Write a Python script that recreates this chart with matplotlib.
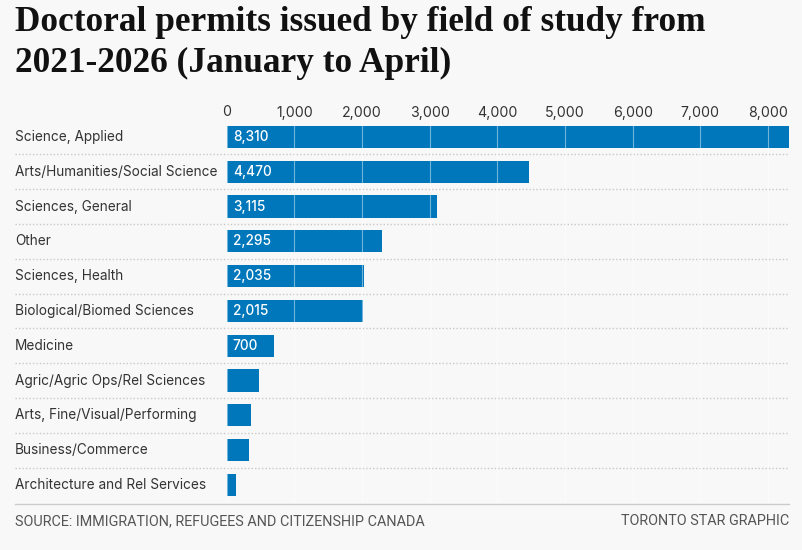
import numpy as np
import matplotlib
matplotlib.use("Agg")
import matplotlib.pyplot as plt

# data
fields = ["Science, Applied", "Arts/Humanities/Social Science", "Sciences, General",
          "Other", "Sciences, Health", "Biological/Biomed Sciences", "Medicine",
          "Agric/Agric Ops/Rel Sciences", "Arts, Fine/Visual/Performing",
          "Business/Commerce", "Architecture and Rel Services"]
permits = [8310, 4470, 3115, 2295, 2035, 2015, 700, 480, 360, 330, 140]
ticks = [0, 1000, 2000, 3000, 4000, 5000, 6000, 7000, 8000]

W, H = 802, 550
bg = "#f8f8f8"
blue = "#0077bb"

fig = plt.figure(figsize=(W / 100, H / 100), dpi=100, facecolor=bg)

# axes box in pixels
x0, x1 = 226.7, 789
ytop, ybot = 119.5, 502.3
ax = fig.add_axes([x0 / W, 1 - ybot / H, (x1 - x0) / W, (ybot - ytop) / H])
ax.set_facecolor(bg)

n = len(fields)
y = np.arange(n)
ax.barh(y, permits, height=0.64, color=blue, zorder=2)
ax.set_ylim(n - 0.5, -0.5)
ax.set_xlim(0, 8310)

# light grid lines on top of the bars
for t in ticks:
    ax.axvline(t, color="white", lw=0.8, alpha=0.45, zorder=3)

ax.xaxis.tick_top()
ax.set_xticks(ticks)
ax.set_xticklabels([f"{t:,}" for t in ticks], family="Inter", fontsize=10.2, color="#333333")
ax.tick_params(axis="x", length=0, pad=0)
ax.set_yticks([])
for s in ax.spines.values():
    s.set_visible(False)

# labels on left
lx = (15 - x0) / (x1 - x0)
for i, f in enumerate(fields):
    ax.text(lx, i, f, transform=ax.get_yaxis_transform(), ha="left", va="center",
            family="Inter", fontsize=9.8, color="#333333")

# values inside bars
for i, v in enumerate(permits):
    if v >= 700:
        ax.text(90, i, f"{v:,}", ha="left", va="center", family="Inter",
                fontsize=9.8, color="white", fontweight="medium", zorder=4)

# dotted separators between rows
for i in range(n - 1):
    ax.axhline(i + 0.5, xmin=lx, xmax=1, color="#c8c8c8", lw=1, ls=(0, (1, 1.5)),
               clip_on=False, zorder=1)

# solid line at bottom
fig.add_artist(plt.Line2D([15 / W, 789 / W], [1 - 504 / H, 1 - 504 / H],
                          color="#cccccc", lw=1))

fig.text(15 / W, 1 - 6 / H, "Doctoral permits issued by field of study from\n2021-2026 (January to April)",
         family="Liberation Serif", fontweight="bold", fontsize=25.4, color="#111111",
         ha="left", va="top", linespacing=1.32)

fig.text(15 / W, 1 - 521 / H, "SOURCE: IMMIGRATION, REFUGEES AND CITIZENSHIP CANADA",
         family="Roboto", fontsize=10.4, color="#555555", ha="left", va="center")
fig.text(789 / W, 1 - 521 / H, "TORONTO STAR GRAPHIC",
         family="Roboto", fontsize=10.4, color="#555555", ha="right", va="center")

fig.savefig("out.png", dpi=100, facecolor=bg)
